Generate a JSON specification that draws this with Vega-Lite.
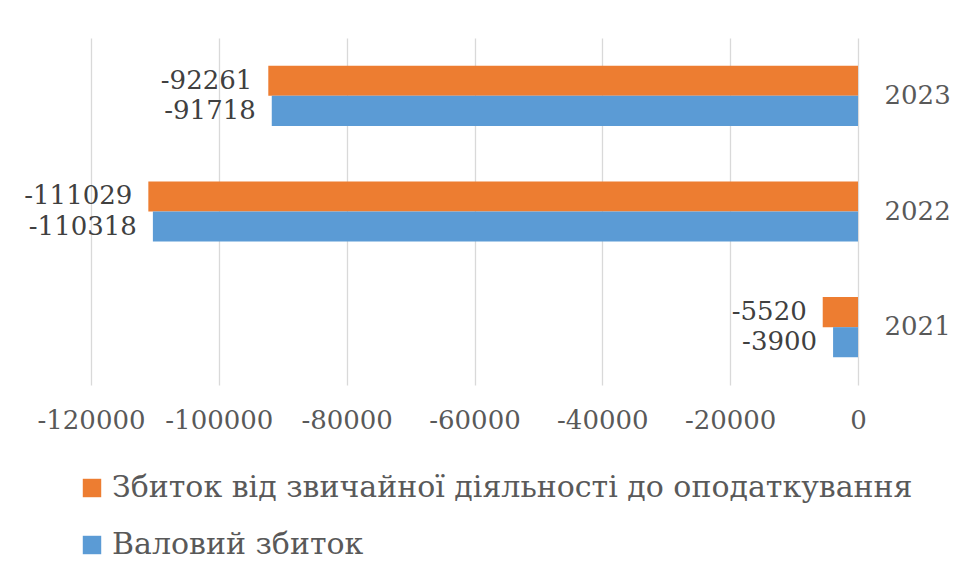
{
  "$schema": "https://vega.github.io/schema/vega-lite/v6.json",
  "width": 767,
  "height": 347,
  "autosize": {"type": "none"},
  "padding": {"left": 91, "top": 38, "right": 98, "bottom": 193},
  "background": "white",
  "config": {
    "view": {"stroke": null},
    "font": "DejaVu Serif",
    "axis": {"labelFont": "DejaVu Serif", "labelColor": "#595959"},
    "legend": {"labelFont": "DejaVu Serif", "labelColor": "#595959"},
    "text": {"font": "DejaVu Serif"}
  },
  "data": {
    "values": [
      {"year": "2023", "series": "Збиток від звичайної діяльності до оподаткування", "value": -92261},
      {"year": "2023", "series": "Валовий збиток", "value": -91718},
      {"year": "2022", "series": "Збиток від звичайної діяльності до оподаткування", "value": -111029},
      {"year": "2022", "series": "Валовий збиток", "value": -110318},
      {"year": "2021", "series": "Збиток від звичайної діяльності до оподаткування", "value": -5520},
      {"year": "2021", "series": "Валовий збиток", "value": -3900}
    ]
  },
  "encoding": {
    "y": {
      "field": "year", "type": "nominal",
      "sort": ["2023", "2022", "2021"],
      "scale": {"paddingInner": 0.48, "paddingOuter": 0.24},
      "axis": {"orient": "right", "title": null, "ticks": false, "domain": false, "labelFontSize": 26, "labelPadding": 26, "grid": false}
    },
    "yOffset": {
      "field": "series", "type": "nominal",
      "sort": ["Збиток від звичайної діяльності до оподаткування", "Валовий збиток"]
    },
    "x": {
      "field": "value", "type": "quantitative",
      "scale": {"domain": [-120000, 0], "nice": false},
      "axis": {"title": null, "ticks": false, "domain": false, "values": [-120000, -100000, -80000, -60000, -40000, -20000, 0], "labelExpr": "replace(format(datum.value, 'd'), '\u2212', '-')", "labelOverlap": false, "labelFlush": false, "labelBound": false, "labelFontSize": 26, "labelPadding": 22, "gridColor": "#d9d9d9", "gridWidth": 1.3}
    }
  },
  "layer": [
    {
      "mark": {"type": "bar"},
      "encoding": {
        "color": {
          "field": "series", "type": "nominal",
          "scale": {"domain": ["Збиток від звичайної діяльності до оподаткування", "Валовий збиток"], "range": ["#ED7D31", "#5B9BD5"]},
          "legend": {
            "title": null, "orient": "none", "legendX": -14, "legendY": 435,
            "symbolType": "square", "symbolSize": 340, "symbolStrokeWidth": 0,
            "labelFontSize": 30, "labelOffset": 5, "rowPadding": 27, "labelLimit": 900
          }
        }
      }
    },
    {
      "transform": [{"calculate": "replace(format(datum.value, 'd'), '\u2212', '-')", "as": "label"}],
      "mark": {"type": "text", "align": "right", "baseline": "middle", "dx": -16, "fontSize": 26, "color": "#404040"},
      "encoding": {"text": {"field": "label", "type": "nominal"}}
    }
  ]
}
